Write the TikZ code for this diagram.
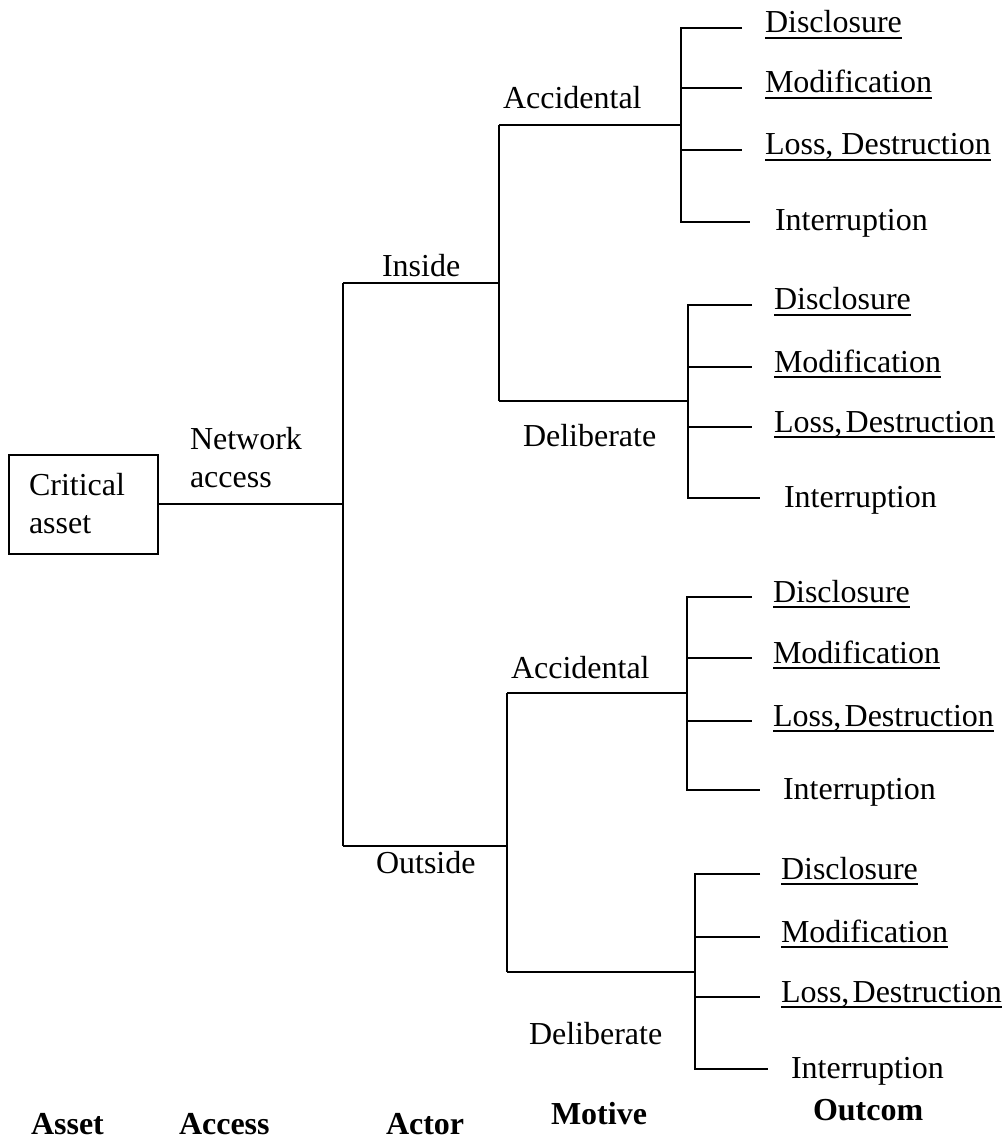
\documentclass[tikz,border=0pt]{standalone}
\usepackage{fontspec}
\setmainfont{Liberation Serif}
% underline drawn at a fixed depth below the baseline
\newcommand\outul[1]{\setbox0=\hbox{#1}\rlap{\rule[-3pt]{\wd0}{1pt}}\box0}
% gap after the comma in "Loss, Destruction"
\newcommand\lsep{ }
% one fan of four outcomes: prefix, vertical x, y of the four leaves and the stem, line end x, text x
\newcommand\outgroup[9]{%
  \coordinate (#1top) at (#2,#3);
  \coordinate (#1bot) at (#2,#7);
  \coordinate (#1s)   at (#2,#5);
  \coordinate (#1de)  at (#8,#3);
  \coordinate (#1me)  at (#8,#4);
  \coordinate (#1le)  at (#8,#6);
  \coordinate (#1ie)  at (#8+8,#7);
  \draw (#1de) -- (#1top) -- (#1bot) -- (#1ie);
  \draw (#1top |- #1me) -- (#1me);
  \draw (#1top |- #1le) -- (#1le);
  \node[lbl] (#1d) at (#9,#3+5) {\outul{Disclosure}};
  \node[lbl] (#1m) at (#9,#4+5) {\outul{Modification}};
  \node[lbl] (#1l) at (#9,#6+5) {\outul{Loss,\lsep Destruction}};
  \node[lbl] (#1i) at (#9+10,#7+9) {Interruption};
}
\begin{document}
\begin{tikzpicture}[x=0.5pt,y=-0.5pt,line width=1pt,
  txt/.style={inner sep=0pt,font=\fontsize{16}{19}\selectfont},
  lbl/.style={txt,anchor=base west},
  cat/.style={lbl,font=\fontsize{16}{19}\selectfont\bfseries}]
\useasboundingbox (0,0) rectangle (1003,1138);

% asset box and access trunk
\node[draw,txt,inner xsep=10pt,text width=54.5pt,minimum width=74.5pt,
      minimum height=49.5pt,align=left] (asset) at (83.5,504) {Critical\\asset};
\node[lbl,align=left] (net) at (189,487) {Network\\access};
\coordinate (trunk) at (343,504);
\coordinate (inJ)   at (343,283);
\coordinate (outJ)  at (343,846);
\draw (asset.east) -- (asset.east -| trunk);
\draw (inJ) -- (outJ);

% actors
\coordinate (inM)  at (499,283);
\coordinate (outM) at (507,846);
\draw (inJ) -- (inM);
\draw (outJ) -- (outM);
\node[lbl] (inside)  at (381,277) {Inside};
\node[lbl] (outside) at (375,873) {Outside};

% motives
\coordinate (inAcc)  at (499,125);
\coordinate (inDel)  at (499,401);
\coordinate (outAcc) at (507,693);
\coordinate (outDel) at (507,972);
\draw (inAcc) -- (inDel);
\draw (outAcc) -- (outDel);
\node[lbl] (accA) at (502,109)  {Accidental};
\node[lbl] (delA) at (522,446)  {Deliberate};
\node[lbl] (accB) at (510,678)  {Accidental};
\node[lbl] (delB) at (528,1044) {Deliberate};

% outcomes
\outgroup{ga}{681}{28}{88}{125}{150}{222}{742}{764}
\renewcommand\lsep{\hspace{0.1em}}
\outgroup{gb}{688}{305}{367}{401}{427}{498}{752}{773}
\outgroup{gc}{687}{597}{658}{693}{721}{790}{752}{772}
\outgroup{gd}{695}{874}{937}{972}{997}{1069}{760}{780}
\draw (inAcc) -- (gas);
\draw (inDel) -- (gbs);
\draw (outAcc) -- (gcs);
\draw (outDel) -- (gds);

% level captions
\node[cat] (cAsset)  at (30,1134)  {Asset};
\node[cat] (cAccess) at (178,1134) {Access};
\node[cat] (cActor)  at (385,1134) {Actor};
\node[cat] (cMotive) at (550,1124) {Motive};
\node[cat] (cOut)    at (812,1120) {Outcom};
\end{tikzpicture}
\end{document}
